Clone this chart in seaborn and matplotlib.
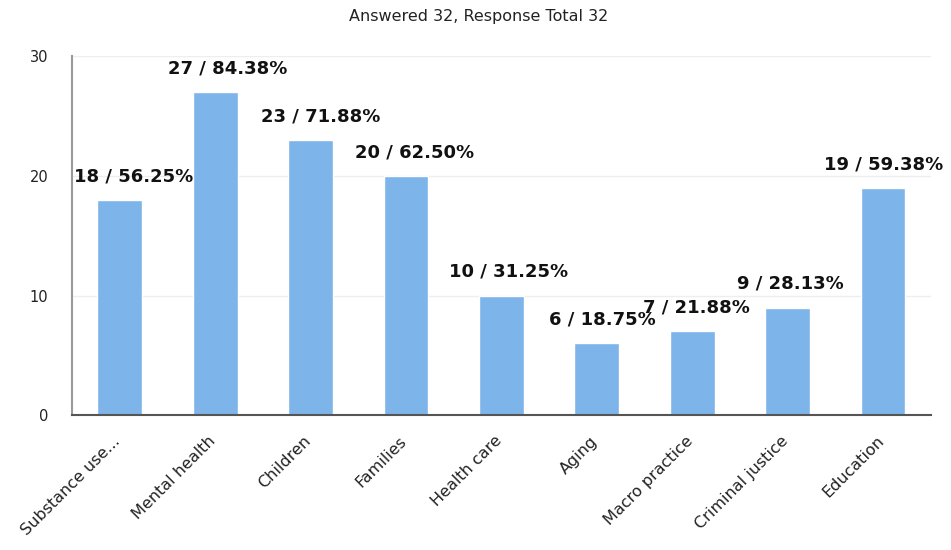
import matplotlib
matplotlib.use("Agg")
import matplotlib.pyplot as plt
import matplotlib.transforms as mtransforms
import seaborn as sns
import pandas as pd

categories = ["Substance use...", "Mental health", "Children", "Families", "Health care",
              "Aging", "Macro practice", "Criminal justice", "Education"]
counts = [18, 27, 23, 20, 10, 6, 7, 9, 19]
percents = ["56.25%", "84.38%", "71.88%", "62.50%", "31.25%", "18.75%", "21.88%", "28.13%", "59.38%"]
yticks = [0, 10, 20, 30]

sns.set_theme(style="white")
plt.rcParams['font.family'] = ['DejaVu Sans']

df = pd.DataFrame({"cat": categories, "n": counts})

fig = plt.figure(figsize=(9.51, 5.5), dpi=100)
ax = fig.add_axes([0.0757, 0.245, 0.903, 0.653])
sns.barplot(data=df, x="cat", y="n", color="#7db4e9", saturation=1, width=0.47, ax=ax)

ax.set_ylim(0, 30)
ax.set_xlim(-0.5, len(categories) - 0.5)
ax.set_yticks(yticks)
ax.set_yticklabels([str(t) for t in yticks], fontsize=10.5, color="#222222")
ax.yaxis.grid(True, color="#eeeeee", linewidth=1)
ax.set_axisbelow(True)
ax.set_xlabel("")
ax.set_ylabel("")
ax.tick_params(axis="y", length=0, pad=17)
ax.tick_params(axis="x", length=0, pad=13)
ax.set_xticks(range(len(categories)))
ax.set_xticklabels(categories, rotation=45, ha="right", rotation_mode="anchor",
                   fontsize=11.5, color="#222222")
shift = mtransforms.ScaledTranslation(-7 / 100, 0, fig.dpi_scale_trans)
for lab in ax.get_xticklabels():
    lab.set_transform(lab.get_transform() + shift)

for s in ["top", "right"]:
    ax.spines[s].set_visible(False)
ax.spines["left"].set_color("#999999")
ax.spines["left"].set_linewidth(1.5)
ax.spines["bottom"].set_color("#555555")
ax.spines["bottom"].set_linewidth(1.5)

n = len(counts)
for i, (c, p) in enumerate(zip(counts, percents)):
    dx = 10 - 9.5 * i / (n - 1)
    ax.annotate(f"{c} / {p}", xy=(i, c), xytext=(dx, 17), textcoords="offset points",
                ha="center", va="center", fontsize=13, fontweight="bold", color="#111111")

fig.suptitle("Answered 32, Response Total 32", x=0.503, y=0.983, fontsize=11.5, color="#222222")

fig.savefig("out.png", dpi=100)
